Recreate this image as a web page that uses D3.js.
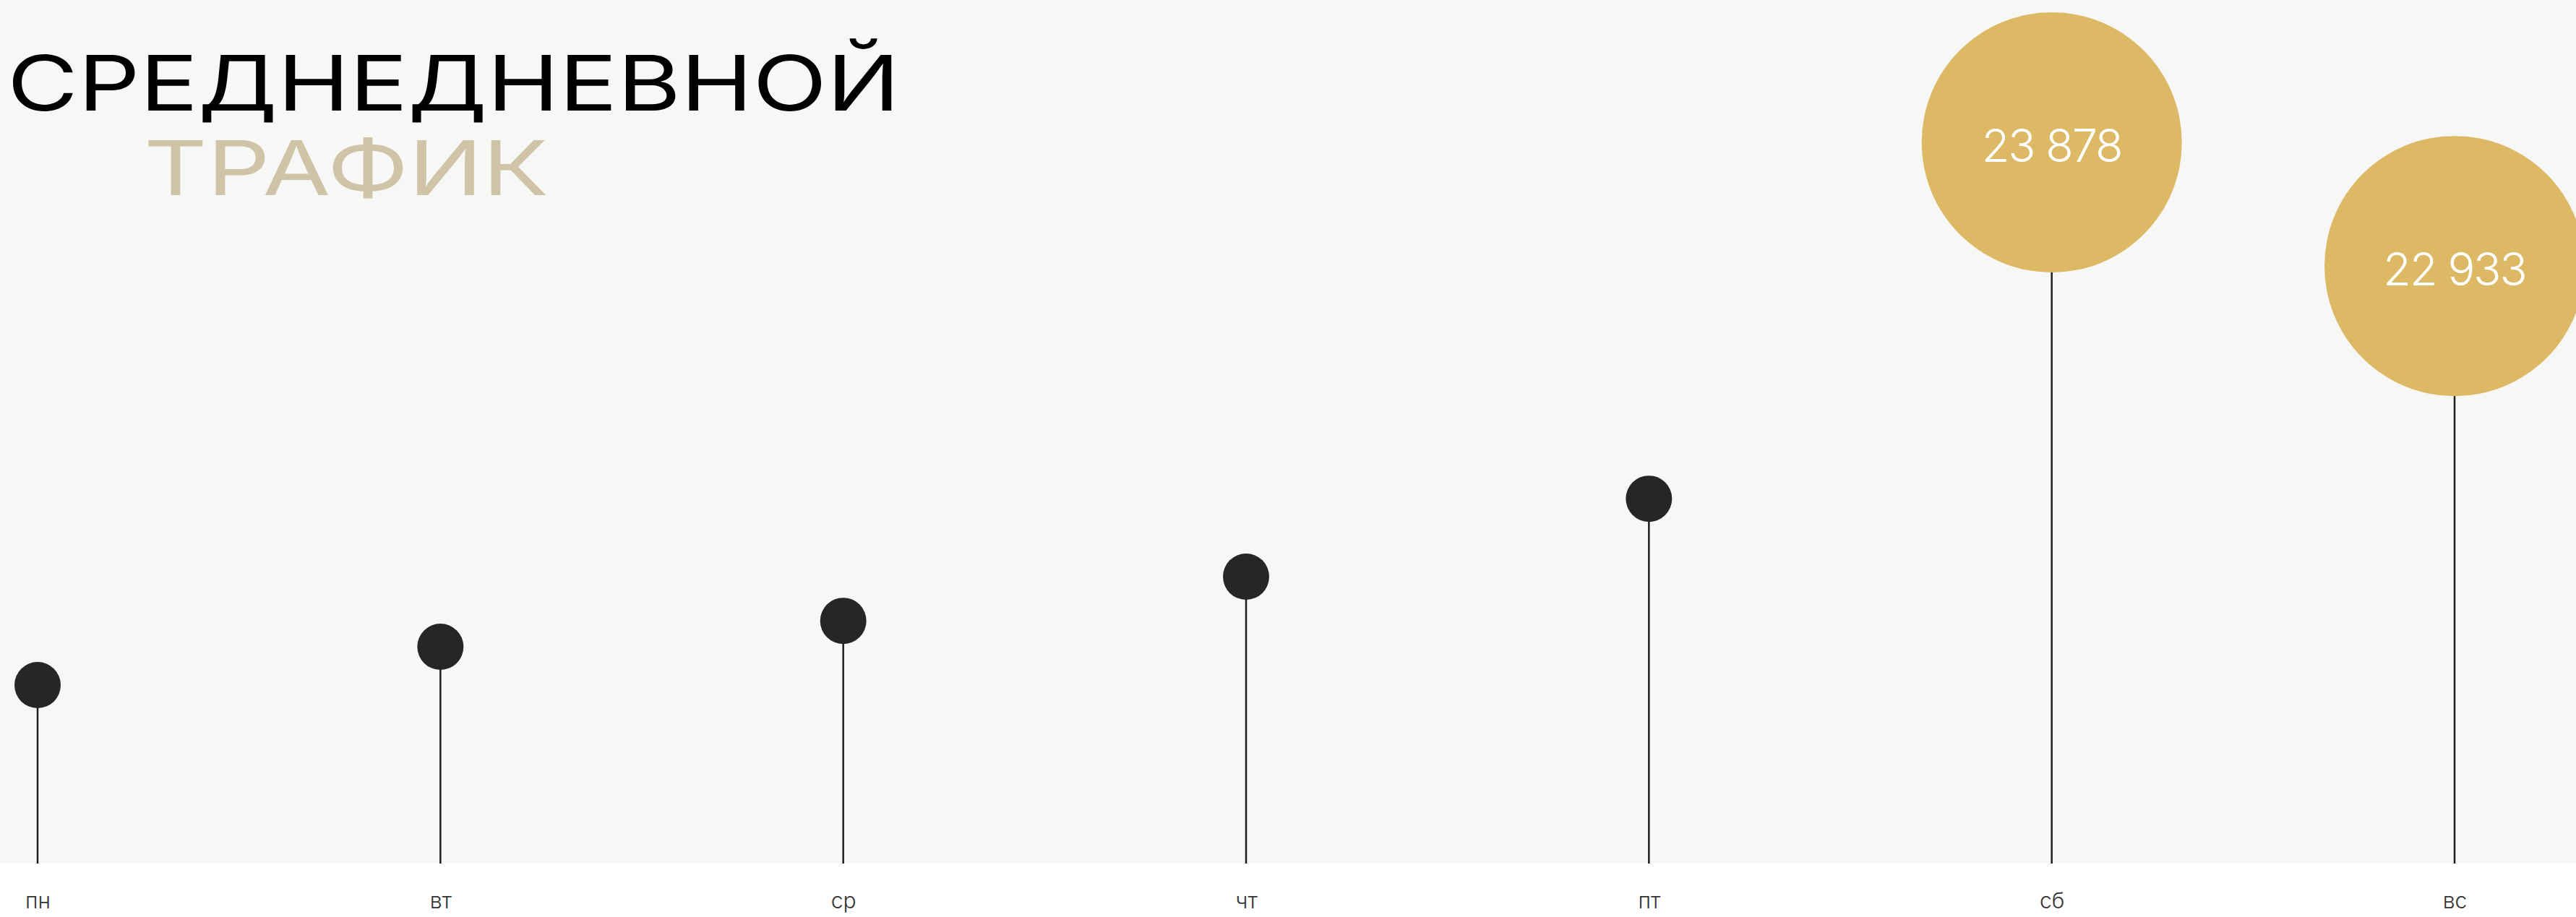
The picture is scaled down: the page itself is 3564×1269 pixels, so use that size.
<!DOCTYPE html>
<html>
<head>
<meta charset="utf-8">
<script src="https://cdn.jsdelivr.net/npm/d3@7/dist/d3.min.js"></script>
<style>
  html, body { margin: 0; padding: 0; background: #fff; overflow: hidden; }
  svg { display: block; }
</style>
</head>
<body>
<div id="chart"></div>
<script>
// data
var days = ['пн', 'вт', 'ср', 'чт', 'пт', 'сб', 'вс'];
var traffic = [19729, 20022, 20220, 20558, 21154, 23878, 22933];
var highlight = ['сб', 'вс'];
var titleLines = ['СРЕДНЕДНЕВНОЙ', 'ТРАФИК'];

var w = 3564, h = 1269;
var plotBottom = 1195;

var svg = d3.select('#chart').append('svg')
  .attr('width', w)
  .attr('height', h);

// grey plot background
svg.append('rect')
  .attr('x', 0).attr('y', 0)
  .attr('width', w).attr('height', plotBottom)
  .attr('fill', '#f7f7f5');

var x = d3.scalePoint()
  .domain(days)
  .range([52, 3396]);

var y = d3.scaleLinear()
  .domain([19000, 24000])
  .range([1080, 175]);

var rows = days.map(function(d, i) { return { day: d, value: traffic[i], big: highlight.indexOf(d) >= 0 }; });

// stems
svg.selectAll('line.stem')
  .data(rows)
  .enter().append('line')
  .attr('class', 'stem')
  .attr('x1', function(d) { return x(d.day); })
  .attr('x2', function(d) { return x(d.day); })
  .attr('y1', function(d) { return y(d.value); })
  .attr('y2', plotBottom)
  .attr('stroke', '#1e1e1e')
  .attr('stroke-width', 2.5);

// dots
svg.selectAll('circle.dot')
  .data(rows)
  .enter().append('circle')
  .attr('class', 'dot')
  .attr('cx', function(d) { return x(d.day); })
  .attr('cy', function(d) { return y(d.value); })
  .attr('r', function(d) { return d.big ? 180 : 32; })
  .attr('fill', function(d) { return d.big ? '#ddb965' : '#262626'; });

// value labels on the big ones
var fmt = function(v) { return d3.format(',')(v).replace(/,/g, ' '); };
svg.selectAll('text.val')
  .data(rows.filter(function(d) { return d.big; }))
  .enter().append('text')
  .attr('class', 'val')
  .attr('x', function(d) { return x(d.day); })
  .attr('y', function(d) { return y(d.value) + 27; })
  .attr('text-anchor', 'middle')
  .attr('fill', '#fff')
  .style('font-family', 'Inter, sans-serif')
  .style('font-weight', 300)
  .style('font-size', '63px')
  .style('letter-spacing', '-2px')
  .text(function(d) { return fmt(d.value); });

// day axis
var axis = svg.append('g')
  .attr('transform', 'translate(0,' + plotBottom + ')')
  .call(d3.axisBottom(x).tickSize(0).tickPadding(41));
axis.select('.domain').remove();
axis.selectAll('text')
  .style('font-family', 'Inter, sans-serif')
  .style('font-weight', 300)
  .style('font-size', '30px')
  .attr('fill', '#333');

// title
svg.append('text')
  .attr('x', 10).attr('y', 153)
  .attr('textLength', 1235)
  .attr('lengthAdjust', 'spacingAndGlyphs')
  .attr('fill', '#000')
  .style('font-family', 'Inter, sans-serif')
  .style('font-size', '106px')
  .text(titleLines[0]);

svg.append('text')
  .attr('x', 199).attr('y', 270)
  .attr('textLength', 560)
  .attr('lengthAdjust', 'spacingAndGlyphs')
  .attr('fill', '#cfc3a8')
  .style('font-family', 'Inter, sans-serif')
  .style('font-size', '104px')
  .text(titleLines[1]);
</script>
</body>
</html>
